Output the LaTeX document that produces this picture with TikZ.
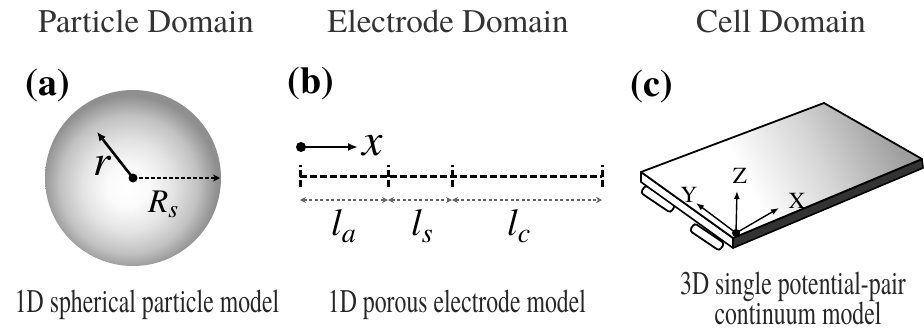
\documentclass[tikz,border=0pt]{standalone}
\usepackage{fontspec}
\usepackage{graphicx}
\setmainfont{texgyretermes}[Extension=.otf, UprightFont=*-regular, BoldFont=*-bold,
  ItalicFont=*-italic, BoldItalicFont=*-bolditalic]
\usetikzlibrary{arrows.meta}

% soft grey ball for the particle (the rim of the path sits at 25bp)
\pgfdeclareradialshading{spherefade}{\pgfpoint{-2bp}{-3bp}}{%
  color(0bp)=(white); color(6bp)=(white!98!black); color(13bp)=(black!11);
  color(19.5bp)=(black!24); color(25bp)=(black!44); color(50bp)=(black!44)}
% light-to-grey sweep across the top of the pouch cell (path spans 25bp..75bp)
\pgfdeclarehorizontalshading{platefade}{100bp}{%
  color(0bp)=(white); color(42bp)=(white); color(58bp)=(black!16);
  color(75bp)=(black!38); color(100bp)=(black!38)}

\newcommand{\sizedtext}[2]{\fontsize{#1}{#1}\selectfont #2}

\tikzset{
  headtext/.style={anchor=base, font=\fontsize{33}{33}\selectfont, text=black!80},
  captext/.style={anchor=base, font=\fontsize{33}{33}\selectfont, xscale=0.72,
    text=black!85, inner sep=0pt},
  panellabel/.style={font=\bfseries\fontsize{38}{38}\selectfont},
  mathlabel/.style={anchor=base west, inner sep=0pt},
  axislabel/.style={anchor=base, font=\fontsize{23}{23}\selectfont, inner sep=0pt},
  dimline/.style={draw=black!60, line width=1.2pt, dash pattern=on 3pt off 2.5pt,
    {Stealth[length=6pt,width=6pt]}-{Stealth[length=6pt,width=6pt]}},
  layerline/.style={line width=3pt, dash pattern=on 7pt off 3pt},
  layertick/.style={line width=3pt, dash pattern=on 7pt off 3pt},
  axisarrow/.style={line width=1.4pt, -{Latex[length=8pt,width=6pt]}},
  dotmark/.style={circle, fill=black, inner sep=0pt, minimum size=#1},
  tabshape/.style={draw, line width=1.8pt, fill=white, rounded corners=3pt,
    minimum width=36pt, minimum height=9pt, inner sep=0pt, rotate=-34}
}

\begin{document}
\begin{tikzpicture}[x=1pt, y=-1pt]
\useasboundingbox (0,0) rectangle (924,335);

% ---------- headings ----------
\node[headtext] (hpart) at (146,32) {Particle Domain};
\node[headtext] (helec) at (448,32) {Electrode Domain};
\node[headtext] (hcell) at (781,32) {Cell Domain};

\node[panellabel] (pa) at (48,86) {(a)};
\node[panellabel] (pb) at (311,84) {(b)};
\node[panellabel] (pc) at (652,87) {(c)};

% ---------- particle domain ----------
\node[circle, shading=spherefade, minimum size=176pt, inner sep=0pt] (sphere) at (133,178) {};
\node[dotmark=9pt] (centre) at (133,178) {};
\coordinate (rtip) at (97,132);
\coordinate (Rtip) at (220,178);
\draw[line width=2.6pt, -{Latex[length=9pt,width=8pt]}] (centre.center) -- (rtip);
\draw[line width=1.6pt, dash pattern=on 3.5pt off 2.5pt, -{Stealth[length=7pt,width=7pt]}]
  (centre.center) -- (Rtip);
\node[mathlabel] (rlab) at (93,175) {\sizedtext{44}{\itshape r}};
\node[mathlabel] (Rlab) at (148,212) {\sizedtext{33}{\itshape R}\raisebox{-5pt}{\sizedtext{25}{\itshape s}}};

% ---------- electrode domain ----------
\node[dotmark=10pt] (xorig) at (301,147) {};
\coordinate (xtip) at (358,147);
\draw[line width=2pt, -{Latex[length=10pt,width=8pt]}] (xorig.center) -- (xtip);
\node[mathlabel] (xlab) at (362,155) {\sizedtext{46}{\itshape x}};

\coordinate (e0) at (300,176);
\coordinate (e1) at (388,176);
\coordinate (e2) at (452,176);
\coordinate (e3) at (602,176);
\draw[layerline] (e0) -- (e3);
\foreach \p in {e0,e1,e2,e3}
  \draw[layertick] ([yshift=-11pt]\p) -- ([yshift=11pt]\p);

\coordinate (d0) at (300,200);
\coordinate (d1) at (388,200);
\coordinate (d2) at (452,200);
\coordinate (d3) at (602,200);
\draw[dimline] (d0) -- (d1);
\draw[dimline] (d1) -- (d2);
\draw[dimline] (d2) -- (d3);

\node[mathlabel] (la) at (331,235) {\sizedtext{38}{\itshape l}\raisebox{-7pt}{\sizedtext{28}{\itshape a}}};
\node[mathlabel] (ls) at (411,235) {\sizedtext{38}{\itshape l}\raisebox{-7pt}{\sizedtext{28}{\itshape s}}};
\node[mathlabel] (lc) at (507,235) {\sizedtext{38}{\itshape l}\raisebox{-7pt}{\sizedtext{28}{\itshape c}}};

% ---------- cell domain ----------
\coordinate (L)  at (641,172);
\coordinate (T)  at (824,103);
\coordinate (Rc) at (922,159);
\coordinate (F)  at (733,238);
\coordinate (L2) at (641,182);
\coordinate (F2) at (733,248);
\coordinate (R2) at (923,168);

% current-collector tabs
\node[tabshape] (tab1) at (658,199) {};
\node[tabshape] (tab2) at (707,237) {};

% side faces of the pouch
\draw[line width=1.6pt, fill=white, line join=round] (L) -- (F) -- (F2) -- (L2) -- cycle;
\draw[line width=1.6pt, fill=black!80, line join=round] (F) -- (Rc) -- (R2) -- (F2) -- cycle;
% top face
\shade[shading=platefade, shading angle=28] (L) -- (T) -- (Rc) -- (F) -- cycle;
\draw[line width=1.8pt, line join=round] (L) -- (T) -- (Rc) -- (F) -- cycle;

% coordinate frame
\node[dotmark=8pt] (o) at (736,233) {};
\coordinate (zt) at (737,191);
\coordinate (xt) at (779,208);
\coordinate (yt) at (696,203);
\draw[axisarrow] (o.center) -- (zt);
\draw[axisarrow] (o.center) -- (xt);
\draw[axisarrow] (o.center) -- (yt);
\node[axislabel] (zl) at (740,183) {Z};
\node[axislabel] (xl) at (797,208) {X};
\node[axislabel] (yl) at (689,202) {Y};

% ---------- captions ----------
\node[captext] (c1) at (147,312) {1D spherical particle model};
\node[captext] (c2) at (457,312) {1D porous electrode model};
\node[captext] (c3) at (793,294) {3D single potential-pair};
\node[captext] (c4) at (798,324) {continuum model};
\end{tikzpicture}
\end{document}
